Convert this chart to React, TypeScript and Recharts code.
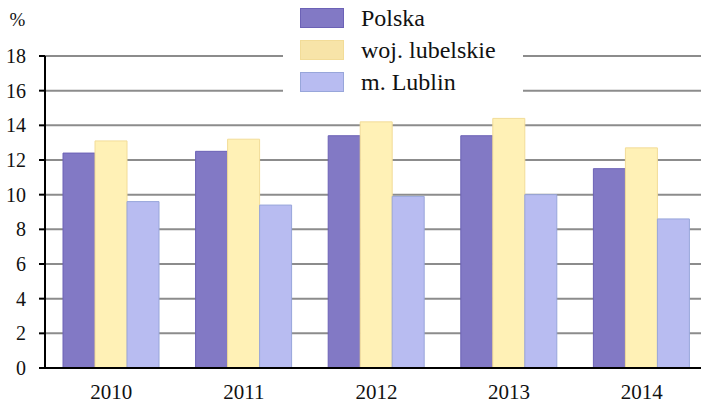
import { BarChart, Bar, XAxis, YAxis, CartesianGrid } from 'recharts';

const years = ['2010', '2011', '2012', '2013', '2014'];
const polska = [12.4, 12.5, 13.4, 13.4, 11.5];
const lubelskie = [13.1, 13.2, 14.2, 14.4, 12.7];
const lublin = [9.6, 9.4, 9.9, 10.0, 8.6];
const yTicks = [0, 2, 4, 6, 8, 10, 12, 14, 16, 18];

const series = [
  { key: 'polska', name: 'Polska', fill: '#8279c5', stroke: '#6c62b6', swatch: '#8279c5' },
  { key: 'lubelskie', name: 'woj. lubelskie', fill: '#fff1b6', stroke: '#f2dc98', swatch: '#f7e4a8' },
  { key: 'lublin', name: 'm. Lublin', fill: '#b8bcf1', stroke: '#98a6da', swatch: '#b8bcf1' },
];

const data = years.map((year, i) => ({
  year,
  polska: polska[i],
  lubelskie: lubelskie[i],
  lublin: lublin[i],
}));

const font = 'Liberation Serif, Times New Roman, serif';

// legend sits over the top gridlines with a white background, like the original
function LegendBox() {
  return (
    <div
      style={{
        position: 'absolute',
        left: 283,
        top: 0,
        width: 240,
        background: '#fff',
        padding: '2px 0 6px 17px',
        boxSizing: 'border-box',
      }}
    >
      {series.map((s) => (
        <div key={s.key} style={{ display: 'flex', alignItems: 'center', height: 32 }}>
          <span
            style={{
              display: 'inline-block',
              width: 42,
              height: 18,
              background: s.swatch,
              border: `1px solid ${s.stroke}`,
              marginRight: 17,
            }}
          />
          <span style={{ fontFamily: font, fontSize: 24, color: '#111' }}>{s.name}</span>
        </div>
      ))}
    </div>
  );
}

export default function App() {
  return (
    <div style={{ position: 'absolute', left: 0, top: 0, width: 701, height: 405, overflow: 'hidden', background: '#fff', fontFamily: font }}>
      <BarChart
        width={710}
        height={405}
        data={data}
        margin={{ top: 56, right: 2, bottom: 0, left: 0 }}
        barSize={32}
        barGap={0}
        style={{ fontFamily: font }}
      >
        <CartesianGrid vertical={false} stroke="#8c8c8c" strokeWidth={2} />
        <XAxis
          dataKey="year"
          height={37}
          tickLine={false}
          tickSize={0}
          tickMargin={16}
          axisLine={{ stroke: '#000', strokeWidth: 2 }}
          tick={{ fill: '#111', fontSize: 21, fontFamily: font }}
        />
        <YAxis
          width={45}
          domain={[0, 18]}
          ticks={yTicks}
          interval={0}
          tickSize={6}
          tickMargin={13}
          axisLine={{ stroke: '#000', strokeWidth: 2 }}
          tickLine={{ stroke: '#000', strokeWidth: 2 }}
          tick={{ fill: '#111', fontSize: 20, fontFamily: font }}
          label={{ value: '%', position: 'top', offset: 30, dx: -5, fill: '#111', fontSize: 19, fontFamily: font }}
        />
        {series.map((s) => (
          <Bar
            key={s.key}
            dataKey={s.key}
            name={s.name}
            fill={s.fill}
            stroke={s.stroke}
            strokeWidth={1}
            isAnimationActive={false}
          />
        ))}
      </BarChart>
      <LegendBox />
    </div>
  );
}
